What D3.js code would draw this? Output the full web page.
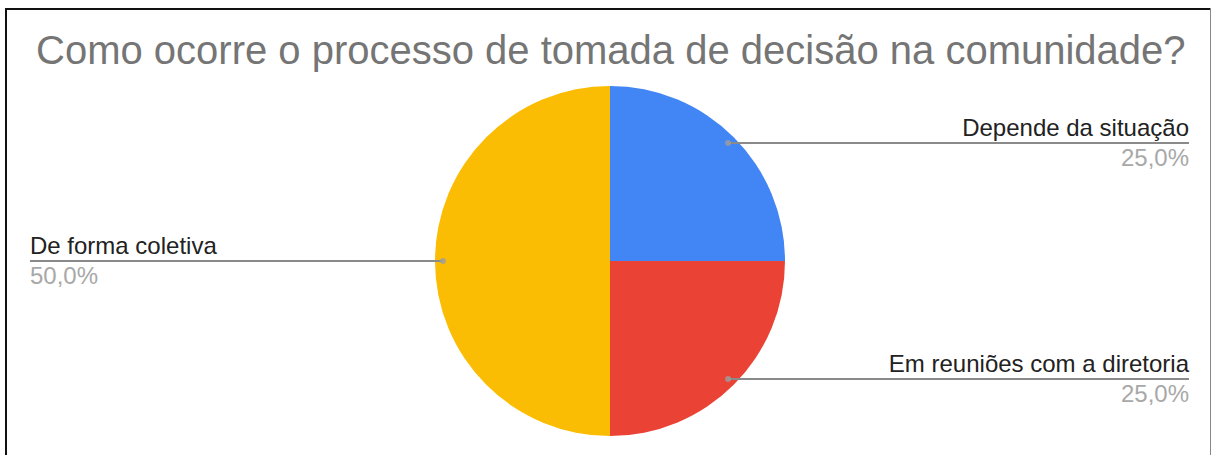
<!DOCTYPE html>
<html>
<head>
<meta charset="utf-8">
<script src="https://cdn.jsdelivr.net/npm/d3@7"></script>
<style>
  html, body { margin: 0; padding: 0; background: #fff; }
  svg { display: block; font-family: Arial, "Liberation Sans", sans-serif; }
</style>
</head>
<body>
<svg id="chart" width="1212" height="455"></svg>
<script>
// Survey answers: how decisions are taken in the community
const title = "Como ocorre o processo de tomada de decisão na comunidade?";
const categories = ["Depende da situação", "Em reuniões com a diretoria", "De forma coletiva"];
const values = [25, 25, 50];
const colors = ["#4285F4", "#EA4335", "#FBBC04"];

const width = 1212, height = 455;
const svg = d3.select("#chart");

// Frame around the chart area
svg.append("line").attr("x1", 5).attr("x2", 1211).attr("y1", 9).attr("y2", 9)
  .attr("stroke", "#111").attr("stroke-width", 2);
svg.append("line").attr("x1", 6).attr("x2", 6).attr("y1", 8).attr("y2", height)
  .attr("stroke", "#111").attr("stroke-width", 2);
svg.append("line").attr("x1", 1210.5).attr("x2", 1210.5).attr("y1", 8).attr("y2", height)
  .attr("stroke", "#888").attr("stroke-width", 1);

// Title
svg.append("text")
  .attr("x", 36).attr("y", 64)
  .attr("font-size", 40)
  .attr("fill", "#757575")
  .text(title);

// Pie
const cx = 610, cy = 261, radius = 175;
const total = d3.sum(values);
const locale = d3.formatLocale({ decimal: ",", thousands: ".", grouping: [3], currency: ["", ""] });
const fmtPct = locale.format(".1%");

const pie = d3.pie().sort(null).value(d => d.value);
const data = categories.map((c, i) => ({ name: c, value: values[i], color: colors[i] }));
const arcs = pie(data);

const arc = d3.arc().innerRadius(0).outerRadius(radius);
const anchorArc = d3.arc().innerRadius(167).outerRadius(167);

const g = svg.append("g").attr("transform", `translate(${cx},${cy})`);
g.selectAll("path.slice")
  .data(arcs)
  .join("path")
  .attr("class", "slice")
  .attr("d", arc)
  .attr("fill", d => d.data.color);

// Leader lines and labels
const leftX = 30, rightX = 1189;
const labels = svg.append("g");
arcs.forEach(a => {
  const [ax, ay] = anchorArc.centroid(a);
  const px = cx + ax, py = cy + ay;
  const right = ax > 0;
  const tx = right ? rightX : leftX;
  labels.append("line")
    .attr("x1", px).attr("y1", py).attr("x2", tx).attr("y2", py)
    .attr("stroke", "#8a8a8a").attr("stroke-width", 2);
  labels.append("circle")
    .attr("cx", px).attr("cy", py).attr("r", 3)
    .attr("fill", "#9e9e9e").attr("opacity", 0.8);
  labels.append("text")
    .attr("x", tx).attr("y", py - 7)
    .attr("text-anchor", right ? "end" : "start")
    .attr("font-size", 24).attr("fill", "#222")
    .text(a.data.name);
  labels.append("text")
    .attr("x", tx).attr("y", py + 23)
    .attr("text-anchor", right ? "end" : "start")
    .attr("font-size", 24).attr("fill", "#a8a8a8")
    .text(fmtPct(a.data.value / total));
});
</script>
</body>
</html>
